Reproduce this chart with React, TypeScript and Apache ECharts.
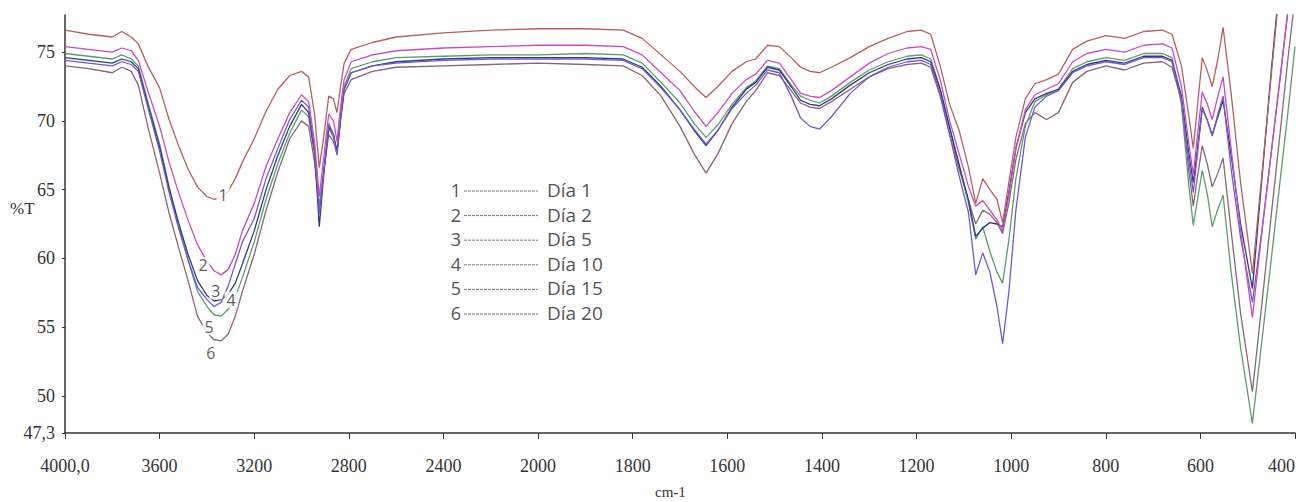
import React, { useEffect, useRef } from "react";
import * as echarts from "echarts";

// Wavenumbers (cm-1) shared by all spectra
const WAVENUMBERS = [
  4000, 3900, 3800, 3760, 3720, 3690, 3650, 3600, 3560, 3520,
  3480, 3440, 3400, 3370, 3340, 3310, 3280, 3250, 3200, 3150,
  3100, 3050, 3000, 2970, 2945, 2925, 2905, 2885, 2865, 2850,
  2835, 2820, 2790, 2700, 2600, 2400, 2200, 2000, 1900, 1820,
  1780, 1740, 1700, 1670, 1645, 1620, 1590, 1560, 1540, 1515,
  1490, 1465, 1445, 1425, 1405, 1380, 1340, 1300, 1260, 1220,
  1190, 1170, 1150, 1130, 1110, 1090, 1075, 1060, 1045, 1030,
  1018, 1005, 990, 970, 950, 925, 900, 870, 840, 800,
  760, 720, 680, 660, 640, 625, 615, 605, 596, 585,
  575, 563, 552, 535, 515, 490, 470, 450, 430, 415,
  400,
];

const DIA_1 = [
  76.6, 76.3, 76.1, 76.5, 76.1, 75.6, 74.0, 72.4, 70.1, 68.2,
  66.5, 65.2, 64.5, 64.3, 64.4, 64.9, 65.8, 67.0, 68.7, 70.7,
  72.3, 73.3, 73.6, 73.2, 70.5, 66.6, 69.0, 71.8, 71.6, 70.6,
  72.5, 74.2, 75.2, 75.7, 76.1, 76.4, 76.6, 76.7, 76.7, 76.6,
  76.0, 74.8, 73.6, 72.5, 71.7, 72.5, 73.6, 74.3, 74.5, 75.5,
  75.4, 74.6, 73.9, 73.6, 73.5, 73.9, 74.6, 75.4, 76.0, 76.5,
  76.6, 76.3, 74.0, 71.2, 69.3, 66.6, 64.0, 65.8, 65.0, 64.3,
  62.6, 65.5, 68.8, 71.6, 72.7, 73.0, 73.4, 75.2, 75.8, 76.2,
  76.0, 76.5, 76.6, 76.3, 74.0, 70.5, 68.0, 71.5, 74.6, 73.6,
  72.5, 74.5, 76.8, 72.0, 65.5, 58.9, 66.1, 73.4, 80.6, 84.0,
  88.0,
];

const DIA_2 = [
  75.4, 75.2, 75.0, 75.3, 75.1, 74.4, 72.2, 69.6, 67.0, 64.8,
  62.8, 61.0, 59.8, 59.1, 58.8, 59.2, 60.3, 62.0, 64.0, 66.7,
  68.7, 70.6, 71.9, 71.4, 68.5, 64.5, 67.5, 70.5, 70.0, 68.5,
  71.0, 73.0, 74.3, 74.8, 75.1, 75.3, 75.4, 75.5, 75.5, 75.4,
  74.8, 73.5, 72.2, 70.7, 69.6, 70.6, 72.0, 73.0, 73.4, 74.4,
  74.2, 73.0, 72.0, 71.8, 71.7, 72.2, 73.2, 74.2, 74.9, 75.3,
  75.4, 75.2, 73.0, 70.0, 67.6, 65.2, 63.8, 64.2, 63.5, 62.8,
  62.0, 64.6, 68.0, 70.8, 71.9, 72.3, 72.7, 74.3, 74.9, 75.2,
  75.0, 75.5, 75.6, 75.3, 72.5, 68.5, 66.1, 69.3, 72.1, 71.2,
  70.1, 71.8, 73.2, 68.0, 62.0, 55.7, 61.9, 67.7, 73.6, 78.0,
  82.0,
];

const DIA_5 = [
  74.4, 74.2, 74.0, 74.3, 74.1, 73.6, 71.0, 67.8, 64.8, 62.2,
  59.9, 57.9, 57.0, 56.5, 56.8, 58.0, 59.6, 61.2, 62.9, 65.8,
  68.0, 70.1, 71.5, 71.0, 68.0, 63.2, 66.5, 69.8, 69.0, 67.5,
  70.3, 72.3, 73.5, 74.0, 74.2, 74.4, 74.5, 74.5, 74.5, 74.4,
  73.8, 72.4, 70.8, 69.4, 68.3, 69.3, 70.9, 72.0, 72.6, 73.7,
  73.5, 71.8, 70.2, 69.6, 69.4, 70.3, 72.0, 73.2, 73.9, 74.3,
  74.4, 74.1, 72.0, 69.0, 66.0, 63.3, 58.8, 60.4, 59.0, 56.5,
  53.8, 57.5, 63.5, 68.8, 71.0, 71.8, 72.2, 73.5, 74.0, 74.3,
  74.1, 74.6, 74.6, 74.3, 71.5, 67.2, 64.8, 68.0, 70.9, 70.0,
  68.9, 70.5, 71.8, 66.5, 61.5, 56.8, 62.0, 67.8, 73.5, 78.0,
  82.0,
];

const DIA_10 = [
  74.6, 74.4, 74.2, 74.5, 74.3, 73.8, 71.2, 68.1, 65.1, 62.6,
  60.3, 58.4, 57.3, 56.9, 57.0, 57.4, 58.2, 59.6, 62.0, 65.0,
  67.5, 69.6, 71.2, 70.6, 67.8, 62.3, 66.3, 69.6, 69.0, 67.8,
  70.2, 72.3, 73.5, 74.0, 74.3, 74.5, 74.6, 74.6, 74.6, 74.5,
  73.9, 72.5, 70.8, 69.3, 68.2, 69.3, 71.0, 72.3, 72.8, 73.9,
  73.7, 72.5, 71.5, 71.2, 71.1, 71.6, 72.6, 73.5, 74.1, 74.5,
  74.6, 74.3, 72.3, 69.5, 66.8, 64.2, 61.6, 62.2, 62.6, 62.5,
  62.3, 64.8, 68.0, 70.6, 71.6, 72.0, 72.3, 73.6, 74.1, 74.4,
  74.2, 74.7, 74.7, 74.4, 71.8, 67.8, 65.5, 68.3, 71.0, 70.0,
  69.0, 70.3, 71.5, 67.5, 62.5, 57.8, 65.8, 73.7, 81.0, 85.0,
  89.0,
];

const DIA_15 = [
  74.9, 74.7, 74.5, 74.8, 74.5, 74.0, 71.4, 68.3, 65.2, 62.4,
  59.9, 57.6, 56.5, 55.9, 55.8, 56.3, 57.2, 58.6, 61.2, 64.3,
  66.9, 69.1, 70.8, 70.3, 67.5, 63.5, 66.5, 69.5, 68.8, 67.8,
  70.3, 72.5, 73.8, 74.3, 74.6, 74.7, 74.8, 74.8, 74.9, 74.8,
  74.2, 72.8, 71.3, 69.8, 68.8, 69.7, 71.2, 72.4, 72.9, 74.0,
  73.8, 72.6, 71.8, 71.5, 71.3, 71.8, 72.8, 73.7, 74.3, 74.7,
  74.8, 74.5, 72.3, 69.5, 66.8, 64.0, 61.4, 62.3, 60.5, 59.0,
  58.2, 61.3, 65.8, 69.6, 71.4, 71.9, 72.3, 73.8, 74.3, 74.6,
  74.4, 74.9, 74.9, 74.6, 71.2, 65.5, 62.4, 64.5, 66.4, 64.6,
  62.3, 63.6, 64.6, 59.0, 53.5, 48.0, 54.0, 60.0, 66.1, 70.6,
  75.4,
];

const DIA_20 = [
  74.0, 73.8, 73.5, 73.9, 73.6, 72.6, 69.6, 66.2, 63.3, 60.8,
  58.4, 55.8, 54.6, 54.1, 54.0, 54.5, 55.8, 57.6, 60.3, 63.5,
  66.3, 68.7, 70.0, 69.6, 67.0, 63.8, 66.5, 69.0, 68.5, 67.6,
  70.0, 72.0, 73.0, 73.6, 73.9, 74.0, 74.1, 74.2, 74.1, 74.0,
  73.3, 71.8, 69.6, 67.6, 66.2, 67.6, 69.8, 71.4, 72.2, 73.5,
  73.3, 72.2, 71.3, 71.0, 70.9, 71.4, 72.3, 73.2, 73.8, 74.1,
  74.2, 73.9, 71.8, 69.0, 66.5, 64.2, 62.5, 63.5, 63.2, 62.6,
  61.8, 64.0, 67.2, 69.8, 70.6, 70.1, 70.6, 72.8, 73.6, 74.0,
  73.7, 74.2, 74.3, 73.9, 71.5, 66.5, 63.8, 66.2, 68.2, 66.8,
  65.2, 66.2, 67.3, 62.0, 56.0, 50.3, 56.7, 63.2, 69.6, 74.5,
  79.0,
];

const SERIES_VALUES = [DIA_1, DIA_2, DIA_5, DIA_10, DIA_15, DIA_20];
const SERIES_NAMES = ["Día 1", "Día 2", "Día 5", "Día 10", "Día 15", "Día 20"];
const SERIES_TAGS = ["1", "2", "3", "4", "5", "6"];
const SERIES_COLORS = ["#b5605e", "#c94bbf", "#7356d6", "#2b3d80", "#5c9c6c", "#8a6478"];

// Curve number annotations near the O-H band
const TAG_WAVENUMBERS = [3332, 3416, 3362, 3298, 3391, 3383];
const TAG_VALUES = [64.6, 59.5, 57.6, 57.0, 55.0, 53.1];

const X_TICK_LABELS = [
  "4000,0", "3600", "3200", "2800", "2400", "2000", "1800",
  "1600", "1400", "1200", "1000", "800", "600", "400",
];
const Y_TICKS = [47.3, 50, 55, 60, 65, 70, 75];

// Instrument axis: 400 cm-1 per division above 2000, 200 cm-1 per division below
const toAxis = (w: number) => (w >= 2000 ? (4000 - w) / 400 : 5 + (2000 - w) / 200);

const AXIS_FONT = '"Liberation Serif", "DejaVu Serif", serif';
const TEXT_FONT = '"Open Sans", "Noto Sans", sans-serif';

export default function App() {
  const ref = useRef<HTMLDivElement>(null);

  useEffect(() => {
    if (!ref.current) return;
    document.body.style.margin = "0";
    document.body.style.overflow = "hidden";
    const chart = echarts.init(ref.current, undefined, { renderer: "svg" });

    const lineSeries = SERIES_VALUES.map((vals, i) => ({
      name: SERIES_NAMES[i],
      type: "line",
      data: WAVENUMBERS.map((w, j) => [toAxis(w), vals[j]]),
      showSymbol: false,
      symbol: "none",
      clip: true,
      lineStyle: { width: 1.3, color: SERIES_COLORS[i] },
      itemStyle: { color: SERIES_COLORS[i] },
      z: 2 + (5 - i),
    }));

    const tagSeries = {
      type: "scatter",
      symbolSize: 1,
      itemStyle: { color: "rgba(0,0,0,0)" },
      z: 20,
      data: TAG_WAVENUMBERS.map((w, i) => ({
        value: [toAxis(w), TAG_VALUES[i]],
        label: {
          show: true,
          position: "inside",
          formatter: SERIES_TAGS[i],
          fontFamily: TEXT_FONT,
          fontSize: 16,
          color: "#333",
          backgroundColor: "#ffffff",
          padding: [0, 2],
        },
      })),
    };

    const legendChildren: any[] = [];
    SERIES_NAMES.forEach((name, i) => {
      const y = 190 + i * 24.6;
      legendChildren.push({
        type: "text",
        x: 456,
        y,
        style: {
          text: SERIES_TAGS[i],
          fontFamily: TEXT_FONT,
          fontSize: 18,
          fill: "#555",
          align: "center",
          verticalAlign: "middle",
        },
      });
      legendChildren.push({
        type: "line",
        shape: { x1: 464, y1: y + 1, x2: 538, y2: y + 1 },
        style: { stroke: "#777", lineWidth: 1, lineDash: [3, 1] },
      });
      legendChildren.push({
        type: "text",
        x: 547,
        y,
        style: {
          text: name,
          fontFamily: TEXT_FONT,
          fontSize: 19,
          fill: "#555",
          align: "left",
          verticalAlign: "middle",
        },
      });
    });

    chart.setOption({
      animation: false,
      backgroundColor: "#ffffff",
      grid: {
        left: 65,
        right: 5,
        top: 15,
        bottom: 69,
        containLabel: false,
        outerBoundsMode: "none",
      },
      xAxis: {
        type: "value",
        min: 0,
        max: 13,
        interval: 1,
        axisLine: { show: true, lineStyle: { color: "#333", width: 1.5 } },
        axisTick: { show: true, length: 6, lineStyle: { color: "#333", width: 1 } },
        splitLine: { show: false },
        axisLabel: {
          margin: 24,
          fontFamily: AXIS_FONT,
          fontSize: 18,
          color: "#333",
          showMinLabel: true,
          showMaxLabel: true,
          alignMaxLabel: "right",
          formatter: (v: number) => X_TICK_LABELS[Math.round(v)] ?? "",
        },
      },
      yAxis: {
        type: "value",
        min: 47.3,
        max: 77.7,
        axisLine: { show: true, lineStyle: { color: "#333", width: 1.5 } },
        axisTick: {
          show: true,
          length: 3,
          customValues: Y_TICKS,
          lineStyle: { color: "#333" },
        },
        splitLine: { show: false },
        axisLabel: {
          margin: 10,
          fontFamily: AXIS_FONT,
          fontSize: 18,
          color: "#333",
          customValues: Y_TICKS,
          formatter: (v: number) =>
            Math.abs(v - 47.3) < 0.01 ? "47,3" : String(Math.round(v)),
        },
      },
      graphic: [
        {
          type: "text",
          left: 10,
          top: 200,
          style: { text: "%T", fontFamily: AXIS_FONT, fontSize: 17, fill: "#333" },
        },
        {
          type: "text",
          left: 655,
          top: 484,
          style: { text: "cm-1", fontFamily: AXIS_FONT, fontSize: 15, fill: "#333" },
        },
        { type: "group", children: legendChildren },
      ],
      series: [...lineSeries, tagSeries],
    });

    return () => chart.dispose();
  }, []);

  return (
    <div
      ref={ref}
      style={{
        position: "absolute",
        left: 0,
        top: 0,
        width: 1300,
        height: 502,
        overflow: "hidden",
        background: "#fff",
      }}
    />
  );
}
